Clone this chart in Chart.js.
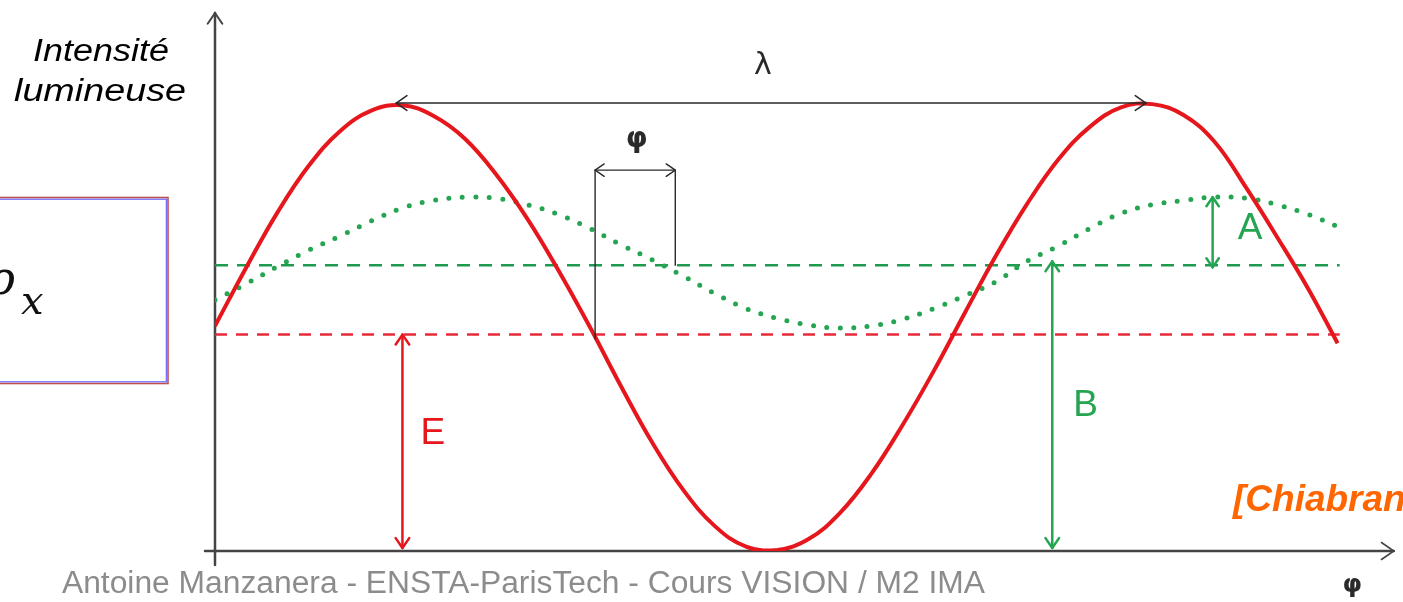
<!DOCTYPE html>
<html>
<head>
<meta charset="utf-8">
<script src="https://cdn.jsdelivr.net/npm/chart.js@4.4.0/dist/chart.umd.min.js"></script>
<style>
  html, body { margin: 0; padding: 0; background: #fff; }
  canvas { display: block; }
</style>
</head>
<body>
<canvas id="chart" width="1403" height="602"></canvas>
<script>
/* ================= DATA ================= */
// phase (degrees) / intensity (arbitrary units)
const redPhase     = [0, 15, 30, 45, 60, 75, 90, 105, 120, 135, 150, 165, 180, 195, 210, 225, 240, 255, 270, 285, 300, 315, 330, 345, 360, 375, 390, 405, 420, 435, 450, 465, 480, 495, 510, 525, 539];
const redIntensity = [104, 131, 156.5, 178, 194, 203.5, 206, 201, 190.5, 174, 153.5, 129.5, 103.5, 76, 50, 28, 11.5, 2, 0.5, 5.5, 17.5, 35.5, 58, 83, 110, 136.5, 160.5, 181, 196, 205, 206.5, 201.5, 189, 168, 145, 121, 96];

const greenPhase     = [0, 15, 30, 45, 60, 75, 90, 105, 120, 135, 150, 165, 180, 195, 210, 225, 240, 255, 270, 285, 300, 315, 330, 345, 360, 375, 390, 405, 420, 435, 450, 465, 480, 495, 510, 525, 539];
const greenIntensity = [116, 123.5, 131.5, 139, 145.5, 152.5, 158.5, 162, 163.5, 163, 160, 155.5, 149, 141.5, 134.5, 127, 119, 112, 107.5, 104.5, 103, 104, 107, 112, 118, 124.5, 134, 141, 149, 156, 160, 162, 163.5, 163, 160, 155.5, 150];

const levelE   = 100;   // red mean
const levelB   = 132;   // green mean
const levelEnd = 540;

// annotation anchors (same units)
const lambdaSpan  = [87, 447];
const lambdaLevel = 207;
const phiSpan     = [182.5, 221];
const phiLevel    = 176;
const phiFoot     = [98, 132];
const arrowE      = 90;
const arrowB      = 402;
const arrowA      = 479;
const peakA       = 163.5;

const xMax = 568;
const yMax = 250;

/* ================= COLORS ================= */
const RED    = "#e5161c";
const RED_D  = "#e62a3a";
const GREEN  = "#1f9a50";
const GREEN2 = "#25a552";
const INK    = "#2a2a2a";

/* ================= HELPERS ================= */
const $ = id => document.getElementById(id);
const pts = (xs, ys) => xs.map((x, i) => ({ x, y: ys[i] }));

function chevron(ctx, x, y, back, len) {
  ctx.beginPath();
  ctx.moveTo(x + len * Math.cos(back + 0.6), y + len * Math.sin(back + 0.6));
  ctx.lineTo(x, y);
  ctx.lineTo(x + len * Math.cos(back - 0.6), y + len * Math.sin(back - 0.6));
  ctx.stroke();
}

function dblArrow(ctx, x1, y1, x2, y2, len) {
  ctx.beginPath();
  ctx.moveTo(x1, y1);
  ctx.lineTo(x2, y2);
  ctx.stroke();
  const a = Math.atan2(y2 - y1, x2 - x1);
  chevron(ctx, x1, y1, a, len);
  chevron(ctx, x2, y2, a + Math.PI, len);
}

function fitText(ctx, text, x, y, w) {
  const nat = ctx.measureText(text).width;
  ctx.save();
  ctx.translate(x, y);
  ctx.scale(w / nat, 1);
  ctx.fillText(text, 0, 0);
  ctx.restore();
}

/* ================= PLUGIN ================= */
const sketch = {
  id: "sketch",
  beforeDatasetsDraw(chart) {
    const { ctx, chartArea: ca, scales: { x } } = chart;
    ctx.save();
    ctx.strokeStyle = "#444";
    ctx.lineWidth = 2.5;
    ctx.lineCap = "round";
    // y axis
    ctx.beginPath();
    ctx.moveTo(ca.left, ca.bottom + 14);
    ctx.lineTo(ca.left, ca.top + 3);
    ctx.stroke();
    ctx.lineWidth = 2;
    chevron(ctx, ca.left, ca.top + 3, Math.PI / 2, 13);
    // x axis
    ctx.lineWidth = 2.5;
    const xe = x.getPixelForValue(566);
    ctx.beginPath();
    ctx.moveTo(ca.left - 10, ca.bottom);
    ctx.lineTo(xe, ca.bottom);
    ctx.stroke();
    ctx.lineWidth = 1.6;
    chevron(ctx, xe, ca.bottom, Math.PI, 15);
    ctx.restore();
  },
  afterDatasetsDraw(chart) {
    const { ctx, scales: { x, y } } = chart;
    const X = v => x.getPixelForValue(v);
    const Y = v => y.getPixelForValue(v);
    ctx.save();
    ctx.lineCap = "round";
    ctx.lineJoin = "round";

    // lambda
    ctx.strokeStyle = INK;
    ctx.lineWidth = 1.6;
    dblArrow(ctx, X(lambdaSpan[0]), Y(lambdaLevel), X(lambdaSpan[1]), Y(lambdaLevel), 13);

    // phi bracket
    ctx.lineWidth = 1.4;
    dblArrow(ctx, X(phiSpan[0]), Y(phiLevel), X(phiSpan[1]), Y(phiLevel), 11);
    ctx.beginPath();
    ctx.moveTo(X(phiSpan[0]), Y(phiLevel));
    ctx.lineTo(X(phiSpan[0]), Y(phiFoot[0]));
    ctx.moveTo(X(phiSpan[1]), Y(phiLevel));
    ctx.lineTo(X(phiSpan[1]), Y(phiFoot[1]));
    ctx.stroke();

    // E
    ctx.strokeStyle = RED;
    ctx.lineWidth = 2.5;
    dblArrow(ctx, X(arrowE), Y(levelE), X(arrowE), Y(0) - 3, 12);
    // B
    ctx.strokeStyle = GREEN2;
    dblArrow(ctx, X(arrowB), Y(levelB) - 4, X(arrowB), Y(0) - 3, 12);
    // A
    dblArrow(ctx, X(arrowA), Y(peakA), X(arrowA), Y(levelB) + 2, 11);

    // labels
    ctx.textAlign = "center";
    ctx.textBaseline = "middle";
    ctx.fillStyle = INK;
    ctx.font = "30px 'DejaVu Sans'";
    ctx.fillText("λ", X(263), Y(224));
    ctx.font = "bold 28px 'DejaVu Sans'";
    ctx.fillText("φ", X(202.5), Y(190));
    ctx.font = "bold 25px 'DejaVu Sans'";
    ctx.fillText("φ", X(546), Y(-16));

    ctx.font = "37px 'Liberation Sans'";
    ctx.fillStyle = RED;
    ctx.fillText("E", X(104.6), Y(54));
    ctx.fillStyle = GREEN2;
    ctx.fillText("B", X(418), Y(67));
    ctx.fillText("A", X(497), Y(149));
    ctx.restore();
  },
  afterDraw(chart) {
    const { ctx } = chart;
    ctx.save();
    // left box
    ctx.strokeStyle = "#c0504d";
    ctx.lineWidth = 1.6;
    ctx.strokeRect(-5, 197.5, 173, 186);
    ctx.strokeStyle = "#5a5aff";
    ctx.lineWidth = 1.1;
    ctx.strokeRect(-5, 199.2, 171.3, 182.6);

    ctx.fillStyle = "#111";
    ctx.textBaseline = "alphabetic";
    ctx.font = "italic 46px 'DejaVu Serif'";
    const rw = ctx.measureText("ρ").width;
    ctx.fillText("ρ", 15 - rw, 294);
    ctx.font = "italic 40px 'DejaVu Serif'";
    ctx.fillText("x", 21, 314);

    // axis label
    ctx.fillStyle = "#000";
    ctx.font = "italic 31px 'Liberation Sans'";
    fitText(ctx, "Intensité", 33, 61, 136);
    fitText(ctx, "lumineuse", 14, 101, 172);

    // credit
    ctx.fillStyle = "#ff6600";
    ctx.font = "bold italic 37px 'Liberation Sans'";
    ctx.fillText("[Chiabrando]", 1233, 511);

    // footer
    ctx.fillStyle = "#8c8c8c";
    ctx.font = "31px 'Liberation Sans'";
    fitText(ctx, "Antoine Manzanera - ENSTA-ParisTech - Cours VISION / M2 IMA", 62, 593, 923);
    ctx.restore();
  }
};

/* ================= CHART ================= */
const chart = new Chart($("chart").getContext("2d"), {
  type: "line",
  data: {
    datasets: [
      {
        data: pts(redPhase, redIntensity),
        borderColor: RED,
        borderWidth: 4,
        tension: 0.4
      },
      {
        data: pts(greenPhase, greenIntensity),
        borderColor: GREEN2,
        borderWidth: 5,
        borderDash: [0, 13.5],
        borderCapStyle: "round",
        tension: 0.4
      },
      {
        data: pts([0, levelEnd], [levelB, levelB]),
        borderColor: GREEN,
        borderWidth: 2.5,
        borderDash: [13, 9]
      },
      {
        data: pts([0, levelEnd], [levelE, levelE]),
        borderColor: RED_D,
        borderWidth: 2.5,
        borderDash: [12, 9]
      }
    ]
  },
  options: {
    responsive: false,
    animation: false,
    layout: { padding: { left: 215, top: 10, right: 5, bottom: 51 } },
    elements: { point: { radius: 0 } },
    plugins: { legend: { display: false }, tooltip: { enabled: false } },
    scales: {
      x: { type: "linear", min: 0, max: xMax, display: false },
      y: { min: 0, max: yMax, display: false }
    }
  },
  plugins: [sketch]
});
</script>
</body>
</html>
